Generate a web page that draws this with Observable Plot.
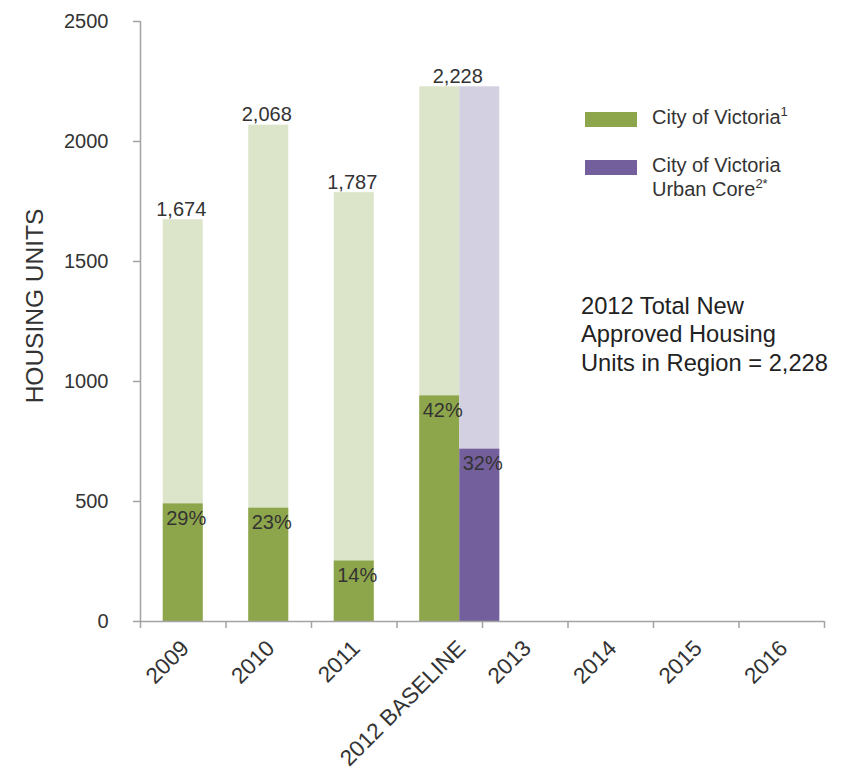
<!DOCTYPE html>
<html>
<head>
<meta charset="utf-8">
<script src="https://cdn.jsdelivr.net/npm/d3@7"></script>
<script src="https://cdn.jsdelivr.net/npm/@observablehq/plot@0.6"></script>
<style>
  body { margin: 0; background: #fff; }
  #wrap { position: relative; width: 848px; height: 770px; font-family: "Liberation Sans", Arial, Helvetica, sans-serif; color: #333; }
  .sw { position: absolute; width: 52px; height: 15px; }
  .lg { position: absolute; font-size: 20px; line-height: 23.5px; color: #333; white-space: nowrap; }
  .lg sup { font-size: 13px; line-height: 0; vertical-align: 0; position: relative; top: -8px; }
  #note { position: absolute; left: 581px; top: 292px; font-size: 23.7px; line-height: 28.3px; color: #222; white-space: nowrap; }
  #ylabel { position: absolute; left: -115px; top: 292px; width: 300px; text-align: center; font-size: 24.5px; line-height: 28px; color: #333; transform: rotate(-90deg); transform-origin: 50% 50%; white-space: nowrap; }
</style>
</head>
<body>
<div id="wrap">
  <div id="ylabel">HOUSING UNITS</div>
  <div class="sw" style="left:585px;top:112px;background:#8ea64b"></div>
  <div class="lg" style="left:652px;top:106px">City of Victoria<sup>1</sup></div>
  <div class="sw" style="left:585px;top:160px;background:#735f9b"></div>
  <div class="lg" style="left:652px;top:154px">City of Victoria<br>Urban Core<sup>2*</sup></div>
  <div id="note">2012 Total New<br>Approved Housing<br>Units in Region = 2,228</div>
</div>
<script>
// ---- data ----
const categories = ["2009", "2010", "2011", "2012 BASELINE", "2013", "2014", "2015", "2016"];
const regionYears = ["2009", "2010", "2011", "2012 BASELINE"];
const regionTotals = [1674, 2068, 1787, 2228];       // total approved units in region
const victoriaUnits = [490, 472, 252, 940];           // City of Victoria share
const victoriaPct = ["29%", "23%", "14%", "42%"];
const coreYears = ["2012 BASELINE"];
const coreTotals = [2228];
const coreUnits = [718];                               // City of Victoria Urban Core share
const corePct = ["32%"];
const yTicks = [0, 500, 1000, 1500, 2000, 2500];

// ---- style ----
const green = "#8ea64b", lightGreen = "#dce5c9";
const purple = "#735f9b", lightPurple = "#d3d0e2";
const axisGray = "#a3a3a3", textColor = "#333";
const hw = 0.234; // half bar width, in category units

const idx = new Map(categories.map((c, i) => [c, i]));
const hasCore = new Set(coreYears);
const victoria = regionYears.map((c, k) => ({cat: c, i: idx.get(c), total: regionTotals[k], units: victoriaUnits[k], pct: victoriaPct[k]}));
const core = coreYears.map((c, k) => ({cat: c, i: idx.get(c), total: coreTotals[k], units: coreUnits[k], pct: corePct[k]}));
const xMin = -0.5, xMax = categories.length - 0.5;
const boundaries = d3.range(categories.length + 1).map(i => i - 0.5);
// group centre of each category (a category holding two bars is centred between them)
const groupCenter = categories.map((c, i) => hasCore.has(c) ? i + hw : i);
const labelAt = new Map(groupCenter.map((x, i) => [x, categories[i]]));

const chart = Plot.plot({
  width: 848,
  height: 770,
  marginLeft: 140,
  marginRight: 24,
  marginTop: 21,
  marginBottom: 149,
  style: {fontFamily: "'Liberation Sans', Arial, sans-serif", color: textColor, background: "white"},
  x: {domain: [xMin, xMax], axis: null},
  y: {domain: [0, 2500], axis: null},
  marks: [
    Plot.rect(victoria, {x1: d => d.i - hw, x2: d => d.i + hw, y1: 0, y2: "total", fill: lightGreen}),
    Plot.rect(victoria, {x1: d => d.i - hw, x2: d => d.i + hw, y1: 0, y2: "units", fill: green}),
    Plot.rect(core, {x1: d => d.i + hw, x2: d => d.i + 3 * hw, y1: 0, y2: "total", fill: lightPurple}),
    Plot.rect(core, {x1: d => d.i + hw, x2: d => d.i + 3 * hw, y1: 0, y2: "units", fill: purple}),
    Plot.ruleY([0], {stroke: axisGray, strokeWidth: 1.5}),
    Plot.ruleX([xMin], {stroke: axisGray, strokeWidth: 1.5}),
    Plot.axisY({ticks: yTicks, tickSize: 7, tickPadding: 25, fontSize: 20, stroke: axisGray, strokeWidth: 1.5, fill: textColor, label: null, tickFormat: d => String(d)}),
    Plot.axisX({ticks: boundaries, tickSize: 7, tickFormat: () => "", stroke: axisGray, strokeWidth: 1.5, label: null}),
    Plot.axisX({ticks: groupCenter, tickSize: 0, tickPadding: 23, tickRotate: -45, dx: 2, tickFormat: x => labelAt.get(x), fontSize: 22.5, fill: textColor, label: null}),
    Plot.text(victoria, {x: d => hasCore.has(d.cat) ? d.i + hw : d.i, y: "total", text: d => d3.format(",")(d.total), lineAnchor: "bottom", dy: -4, dx: -2, fontSize: 20, fill: textColor}),
    Plot.text(victoria, {x: "i", y: "units", text: "pct", lineAnchor: "top", dy: 7, dx: 3, fontSize: 20, fill: textColor}),
    Plot.text(core, {x: d => d.i + 2 * hw, y: "units", text: "pct", lineAnchor: "top", dy: 7, dx: 3, fontSize: 20, fill: textColor})
  ]
});
chart.style.position = "absolute";
chart.style.left = "0";
chart.style.top = "0";
document.getElementById("wrap").prepend(chart);
</script>
</body>
</html>
